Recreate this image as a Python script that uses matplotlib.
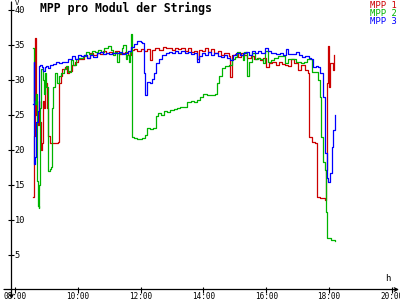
import matplotlib
matplotlib.use("Agg")
import matplotlib.pyplot as plt

# time in decimal hours, values in V
t1 = [8.57, 8.60, 8.62, 8.64, 8.66, 8.68, 8.72, 8.75, 8.78, 8.83, 8.86, 8.89, 8.93, 8.97,
      9.02, 9.05, 9.10, 9.20, 9.37, 9.40, 9.45, 9.50, 9.58, 9.65, 9.72, 9.80, 9.90, 10.0,
      10.1, 10.2, 10.3, 10.4, 10.5, 10.6, 10.7, 10.8, 10.9, 11.0, 11.1, 11.2, 11.3, 11.4,
      11.5, 11.6, 11.7, 11.8, 11.9, 12.0, 12.1, 12.2, 12.3, 12.36, 12.45, 12.6, 12.7, 12.8,
      12.9, 13.0, 13.1, 13.2, 13.3, 13.4, 13.5, 13.6, 13.7, 13.8, 13.85, 13.95, 14.05, 14.15,
      14.25, 14.35, 14.45, 14.55, 14.65, 14.8, 14.85, 14.9, 15.0, 15.1, 15.2, 15.3, 15.4,
      15.5, 15.6, 15.7, 15.8, 15.9, 16.0, 16.1, 16.2, 16.3, 16.4, 16.5, 16.6, 16.7, 16.8,
      16.9, 17.0, 17.1, 17.2, 17.25, 17.33, 17.36, 17.46, 17.55, 17.62, 17.71, 17.87, 17.92,
      17.94, 17.97, 18.0, 18.03, 18.13, 18.16]
v1 = [13.3, 15.0, 22.0, 36.0, 29.0, 25.0, 23.5, 27.0, 24.0, 20.0, 21.0, 27.0, 26.0, 29.5,
      26.0, 22.0, 21.0, 21.0, 21.2, 29.5, 30.5, 31.5, 31.8, 31.0, 31.3, 32.2, 32.5, 33.0,
      33.0, 33.5, 33.2, 33.9, 33.6, 33.9, 33.7, 34.1, 33.8, 34.0, 33.8, 34.2, 33.7, 33.8,
      34.0, 33.6, 34.3, 34.4, 34.2, 34.4, 34.2, 34.4, 32.9, 34.3, 34.5, 34.3, 34.7, 34.5,
      34.6, 34.3, 34.6, 34.4, 34.5, 34.2, 34.6, 34.0, 34.2, 33.0, 34.3, 34.2, 34.6, 34.0,
      34.4, 33.9, 34.2, 33.6, 33.8, 33.4, 30.4, 33.5, 33.7, 33.3, 33.8, 33.5, 33.2,
      33.4, 33.0, 33.2, 32.9, 33.1, 31.9, 32.4, 32.6, 32.2, 32.5, 32.3, 32.1, 32.0, 33.0,
      32.4, 31.4, 32.1, 32.2, 31.4, 31.0, 21.9, 21.2, 21.0, 13.3, 13.1, 12.9, 17.1,
      29.5, 34.8, 29.0, 32.4, 31.4, 33.6]

t2 = [8.57, 8.60, 8.63, 8.66, 8.69, 8.72, 8.75, 8.78, 8.80, 8.84, 8.88, 8.92, 8.96, 9.0,
      9.05, 9.10, 9.15, 9.18, 9.22, 9.27, 9.33, 9.40, 9.48, 9.55, 9.62, 9.70, 9.78, 9.85,
      9.95, 10.05, 10.15, 10.25, 10.35, 10.45, 10.55, 10.65, 10.75, 10.85, 10.95, 11.05,
      11.12, 11.2, 11.25, 11.32, 11.4, 11.45, 11.52, 11.58, 11.62, 11.66, 11.69, 11.73, 11.8,
      11.9, 12.05, 12.15, 12.2, 12.3, 12.4, 12.5, 12.55, 12.65, 12.75, 12.85, 12.94, 13.05,
      13.15, 13.25, 13.35, 13.48, 13.6, 13.7, 13.8, 13.89, 14.0, 14.1, 14.2, 14.37, 14.43,
      14.5, 14.59, 14.69, 14.8, 14.9, 15.0, 15.07, 15.15, 15.25, 15.3, 15.39, 15.45, 15.55,
      15.65, 15.75, 15.8, 15.9, 15.96, 16.05, 16.15, 16.25, 16.38, 16.5, 16.6, 16.7, 16.82,
      16.95, 17.1, 17.2, 17.3, 17.46, 17.6, 17.65, 17.71, 17.76, 17.81, 17.87, 17.9, 17.94,
      18.05, 18.19]
v2 = [34.5, 27.0, 26.5, 28.0, 15.5, 12.0, 11.7, 15.0, 26.0, 31.5, 30.0, 28.0, 31.0, 29.0,
      17.0, 17.3, 17.5, 26.0, 29.0, 31.0, 29.5, 30.5, 31.0, 31.6, 32.0, 31.2, 32.8, 32.2,
      33.0, 33.2, 33.4, 34.0, 33.7, 34.2, 34.0, 34.3, 34.0, 34.5, 34.9, 34.3,
      33.5, 34.0, 32.5, 33.8, 34.6, 35.0, 33.0, 33.6, 32.5, 34.0, 36.6, 21.9, 21.7,
      21.6, 21.7, 22.1, 23.2, 23.0, 23.2, 24.8, 25.3, 25.0, 25.5, 25.4, 25.7, 25.8,
      26.0, 26.2, 26.1, 26.9, 27.0, 26.8, 27.2, 27.6, 28.0, 27.9, 27.9, 28.0, 29.5,
      30.5, 31.7, 32.0, 32.2, 33.0, 33.3, 34.0, 33.5, 32.8, 34.0, 30.5, 32.5, 33.8,
      33.0, 33.2, 33.0, 32.4, 34.2, 32.6, 32.8, 33.2, 33.4, 33.4, 32.4, 33.0, 33.0,
      32.6, 32.4, 32.6, 33.0, 31.2, 31.2, 30.0, 27.6, 21.9, 18.3, 17.1, 11.2, 7.4,
      7.1, 7.0]

t3 = [8.57, 8.59, 8.62, 8.65, 8.68, 8.72, 8.76, 8.80, 8.85, 8.90, 8.95, 9.0, 9.05, 9.1,
      9.2, 9.3, 9.4, 9.5, 9.6, 9.7, 9.8, 9.9, 10.0, 10.1, 10.2, 10.3, 10.4, 10.5, 10.6,
      10.7, 10.8, 10.9, 11.0, 11.1, 11.2, 11.3, 11.4, 11.5, 11.6, 11.7, 11.8, 11.9, 12.0,
      12.04, 12.1, 12.14, 12.2, 12.3, 12.36, 12.42, 12.5, 12.6, 12.68, 12.8, 12.9, 13.0,
      13.1, 13.2, 13.3, 13.4, 13.5, 13.6, 13.7, 13.8, 13.85, 13.95, 14.05, 14.15, 14.25,
      14.35, 14.45, 14.55, 14.65, 14.75, 14.85, 14.95, 15.05, 15.15, 15.25, 15.35, 15.45,
      15.55, 15.65, 15.75, 15.85, 15.96, 16.05, 16.15, 16.3, 16.45, 16.55, 16.62, 16.7,
      16.85, 16.95, 17.05, 17.15, 17.25, 17.35, 17.42, 17.49, 17.6, 17.65, 17.72, 17.78,
      17.81, 17.87, 17.94, 17.97, 18.03, 18.10, 18.13, 18.19]
v3 = [26.5, 32.5, 18.0, 19.0, 24.0, 25.5, 32.0, 32.1, 31.9, 31.3, 31.8, 32.0, 31.7, 32.1,
      32.3, 32.5, 32.4, 32.6, 32.5, 33.0, 33.4, 33.0, 33.5, 33.4, 33.6, 33.2, 33.6, 33.3, 33.8,
      34.0, 33.7, 33.9, 33.7, 33.9, 33.8, 34.0, 33.7, 33.8, 34.1, 34.7, 35.2, 35.5, 35.4,
      35.3, 31.0, 27.8, 29.7, 29.6, 30.2, 31.0, 32.4, 33.0, 33.6, 33.8, 34.0, 33.8,
      34.1, 33.9, 34.2, 33.8, 34.0, 33.7, 33.9, 32.6, 33.4, 33.8, 33.5, 34.0, 33.6,
      33.9, 33.4, 33.3, 33.6, 33.2, 32.8, 33.6, 33.9, 33.5, 33.8, 34.0, 33.6,
      34.1, 33.8, 34.2, 33.9, 34.6, 34.2, 33.9, 33.7, 33.8, 33.6, 34.4, 33.7,
      33.7, 34.0, 33.5, 33.3, 33.4, 33.1, 33.0, 31.9, 32.0, 31.9, 31.0, 31.0,
      27.6, 19.6, 16.0, 15.4, 16.7, 20.4, 22.9, 25.0]

series = ["MPP 1", "MPP 2", "MPP 3"]
colors = ["#cc0000", "#00b400", "#0000ff"]
xticks = [8, 10, 12, 14, 16, 18, 20]
xlabels = ["08:00", "10:00", "12:00", "14:00", "16:00", "18:00", "20:00"]
yticks = [5, 10, 15, 20, 25, 30, 35, 40]

mono = "DejaVu Sans Mono"

fig = plt.figure(figsize=(4, 3), dpi=100)
ax = fig.add_axes([11 / 400, 10 / 300, 387 / 400, 285 / 300])

for t, v, c in zip([t1, t2, t3], [v1, v2, v3], colors):
    ax.plot(t, v, color=c, lw=0.9, drawstyle="steps-post")

ax.set_xlim(7.873, 20.197)
ax.set_ylim(0, 40.7)
for s in ax.spines.values():
    s.set_visible(False)

ax.set_xticks(xticks)
ax.set_xticklabels(xlabels, family=mono, fontsize=5.5)
ax.set_yticks(yticks)
ax.set_yticklabels([str(y) for y in yticks], family=mono, fontsize=6.2)
ax.tick_params(axis="x", direction="inout", length=4, width=0.8, pad=-0.4)
ax.tick_params(axis="y", direction="inout", length=4, width=0.8, pad=-4.5)
for lab in ax.get_yticklabels():
    lab.set_ha("left")

# axis lines with arrows
ax.annotate("", xy=(11.5, 298), xytext=(11.5, 1), xycoords="figure pixels",
            textcoords="figure pixels",
            arrowprops=dict(arrowstyle="<-", lw=0.9, color="black",
                            shrinkA=0, shrinkB=0, mutation_scale=6))
ax.annotate("", xy=(4, 10.5), xytext=(399, 10.5), xycoords="figure pixels",
            textcoords="figure pixels",
            arrowprops=dict(arrowstyle="<-", lw=0.9, color="black",
                            shrinkA=0, shrinkB=0, mutation_scale=6))

fig.text(15 / 400, 1 - 0 / 300, "V", family=mono, fontsize=5.2, va="top")
fig.text(385 / 400, 19 / 300, "h", family=mono, fontsize=6.5)

fig.text(40 / 400, 1 - 2 / 300, "MPP pro Modul der Strings", family=mono,
         fontweight="bold", fontsize=8.3, va="top")

for i, (name, c) in enumerate(zip(series, colors)):
    fig.text(397 / 400, 1 - (5 + 8 * i) / 300, name, family=mono, fontsize=6.4,
             color=c, ha="right", va="center")

fig.savefig("out.png", dpi=100)
